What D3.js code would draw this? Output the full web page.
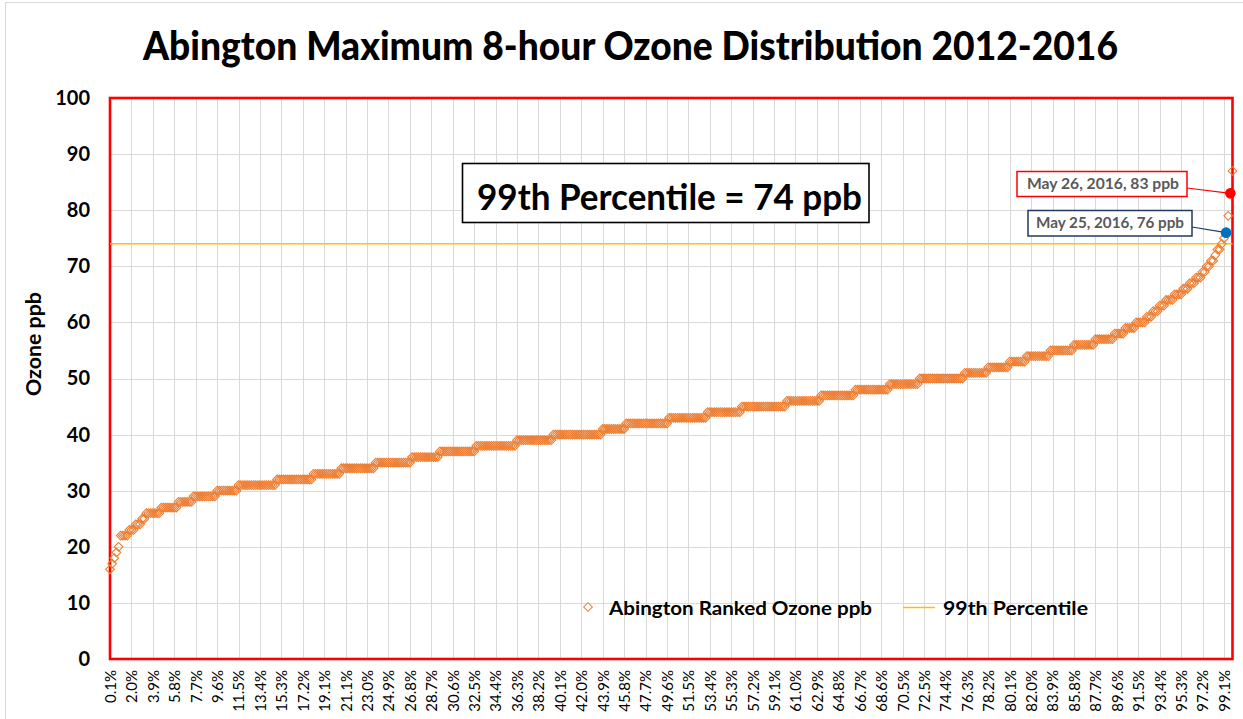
<!DOCTYPE html>
<html><head><meta charset="utf-8">
<script src="https://cdn.jsdelivr.net/npm/d3@7"></script>
<style>
html,body{margin:0;padding:0;background:#fff;}
svg{display:block;font-family:Lato,"Open Sans",sans-serif;}
</style>
</head><body>
<svg id="chart" width="1243" height="719"></svg>
<script>
// ---- data ----
const ozoneLevels = [16,17,18,19,20,22,23,24,25,26,27,28,29,30,31,32,33,34,35,36,37,38,39,40,41,42,43,44,45,46,47,48,49,50,51,52,53,54,55,56,57,58,59,60,61,62,63,64,65,66,67,68,69,70,71,72,73,74,75,76,79,83,87];
const daysAtLevel = [1,1,1,1,1,4,3,3,2,7,8,7,11,10,18,17,13,16,17,13,17,19,17,23,11,20,18,16,21,16,16,16,14,21,11,10,8,11,11,10,9,5,5,5,3,3,3,4,4,3,3,3,2,2,2,1,2,1,1,1,1,1,1];
const tickLabels = ["0.1%","2.0%","3.9%","5.8%","7.7%","9.6%","11.5%","13.4%","15.3%","17.2%","19.1%","21.1%","23.0%","24.9%","26.8%","28.7%","30.6%","32.5%","34.4%","36.3%","38.2%","40.1%","42.0%","43.9%","45.8%","47.7%","49.6%","51.5%","53.4%","55.3%","57.2%","59.1%","61.0%","62.9%","64.8%","66.7%","68.6%","70.5%","72.5%","74.4%","76.3%","78.2%","80.1%","82.0%","83.9%","85.8%","87.7%","89.6%","91.5%","93.4%","95.3%","97.2%","99.1%"];
const yTicks = [0,10,20,30,40,50,60,70,80,90,100];
const percentile99 = 74;
const highlightDays = [
  {label:"May 26, 2016, 83 ppb", rank:523, value:83, color:"#FF0000", box:"#FF0000"},
  {label:"May 25, 2016, 76 ppb", rank:521, value:76, color:"#0070C0", box:"#1F3864"}
];
const titleText = "Abington Maximum 8-hour Ozone Distribution 2012-2016";

// ---- build ranked series ----
const ranked = [];
ozoneLevels.forEach((v,i)=>{ for(let k=0;k<daysAtLevel[i];k++) ranked.push(v); });
const N = ranked.length;
const labelEvery = 10;
const tickIdx = tickLabels.map((_,i)=>i*labelEvery);

const svg = d3.select("#chart");
const L=110, R=1232.5, T=98, B=659;
const x = d3.scalePoint().domain(d3.range(N)).range([L,R]);
const y = d3.scaleLinear().domain([0,100]).range([B,T]);

// outer chart border
svg.append("rect").attr("x",5.5).attr("y",2.5).attr("width",1300).attr("height",800)
  .attr("fill","#fff").attr("stroke","#d9d9d9").attr("stroke-width",1);

// title
svg.append("text").attr("x",143).attr("y",60).text(titleText)
  .attr("font-size",39).attr("font-weight","900").attr("fill","#000")
  .attr("textLength",975).attr("lengthAdjust","spacingAndGlyphs");

// gridlines
const grid = svg.append("g").attr("stroke","#d9d9d9").attr("stroke-width",1);
grid.selectAll(".h").data(yTicks.filter(t=>t>0&&t<100)).join("line")
  .attr("x1",L).attr("x2",R).attr("y1",d=>Math.round(y(d))+0.5).attr("y2",d=>Math.round(y(d))+0.5);
grid.selectAll(".v").data(tickIdx.filter(i=>i>0)).join("line")
  .attr("x1",d=>Math.round(x(d))+0.5).attr("x2",d=>Math.round(x(d))+0.5).attr("y1",T).attr("y2",B);

// plot border
svg.append("rect").attr("x",L).attr("y",T).attr("width",R-L).attr("height",B-T)
  .attr("fill","none").attr("stroke","#FF0000").attr("stroke-width",2.6);

// y axis
const yAxis = svg.append("g").attr("transform",`translate(${L},0)`)
  .call(d3.axisLeft(y).tickValues(yTicks).tickSize(0).tickPadding(20));
yAxis.select(".domain").remove();
yAxis.selectAll("text").attr("font-size",20).attr("font-weight","bold").attr("fill","#000")
  .attr("font-family","Lato");

// x axis
const xAxis = svg.append("g").attr("transform",`translate(0,${B})`)
  .call(d3.axisBottom(x).tickValues(tickIdx).tickFormat((d,i)=>tickLabels[i]).tickSize(0));
xAxis.select(".domain").remove();
xAxis.selectAll("text").attr("transform","rotate(-90)").attr("x",-11).attr("y",0).attr("dy","0.36em")
  .style("text-anchor","end").attr("font-size",15).attr("fill","#000").attr("font-family","Lato");

// y title
svg.append("text").attr("transform","translate(41,344) rotate(-90)").attr("text-anchor","middle")
  .text("Ozone ppb").attr("font-size",21).attr("font-weight","bold")
  .attr("textLength",104).attr("lengthAdjust","spacingAndGlyphs");

// 99th percentile line
svg.append("line").attr("x1",L).attr("x2",R).attr("y1",y(percentile99)).attr("y2",y(percentile99))
  .attr("stroke","#FFC000").attr("stroke-width",1.5);

// series markers
const diamond = d3.symbol().type(d3.symbolSquare).size(38);
svg.append("g").selectAll("path").data(ranked).join("path")
  .attr("d",diamond)
  .attr("transform",(d,i)=>`translate(${x(i)},${y(d)}) rotate(45)`)
  .attr("fill","none").attr("stroke","#ED7D31").attr("stroke-width",1.1);

// 99th percentile text box
svg.append("rect").attr("x",462.5).attr("y",163.5).attr("width",406.5).attr("height",59)
  .attr("fill","#fff").attr("stroke","#000").attr("stroke-width",1.6);
svg.append("text").attr("x",477).attr("y",210).text(`99th Percentile = ${percentile99} ppb`)
  .attr("font-size",37).attr("font-weight","bold").attr("fill","#000")
  .attr("textLength",385).attr("lengthAdjust","spacingAndGlyphs");

// callouts
const boxes = [{x:1017,y:171.5,w:170,h:25,tx:1027,ty:189,lx:1187,ly:188,tl:152},
               {x:1028,y:210.5,w:164,h:25.5,tx:1036,ty:228,lx:1192,ly:227,tl:148}];
highlightDays.forEach((h,k)=>{
  const b = boxes[k];
  svg.append("line").attr("x1",b.lx).attr("y1",b.ly).attr("x2",x(h.rank)).attr("y2",y(h.value))
    .attr("stroke",h.box).attr("stroke-width",1.2);
  svg.append("rect").attr("x",b.x).attr("y",b.y).attr("width",b.w).attr("height",b.h)
    .attr("fill","#fff").attr("stroke",h.box).attr("stroke-width",1.5);
  svg.append("text").attr("x",b.tx).attr("y",b.ty).text(h.label)
    .attr("font-size",14.5).attr("font-weight","bold").attr("fill","#595959")
    .attr("textLength",b.tl).attr("lengthAdjust","spacingAndGlyphs");
  svg.append("circle").attr("cx",x(h.rank)).attr("cy",y(h.value)).attr("r",5.3).attr("fill",h.color);
});

// legend
const lg = svg.append("g");
lg.append("path").attr("d",diamond).attr("transform","translate(588,607) rotate(45)")
  .attr("fill","none").attr("stroke","#ED7D31").attr("stroke-width",1);
lg.append("text").attr("x",609).attr("y",615).text("Abington Ranked Ozone ppb")
  .attr("font-size",19).attr("font-weight","bold").attr("fill","#000")
  .attr("textLength",263).attr("lengthAdjust","spacingAndGlyphs");
lg.append("line").attr("x1",903).attr("x2",935).attr("y1",607.5).attr("y2",607.5)
  .attr("stroke","#FFC000").attr("stroke-width",1.5);
lg.append("text").attr("x",943).attr("y",615).text("99th Percentile")
  .attr("font-size",19).attr("font-weight","bold").attr("fill","#000")
  .attr("textLength",145).attr("lengthAdjust","spacingAndGlyphs");
</script>
</body></html>
